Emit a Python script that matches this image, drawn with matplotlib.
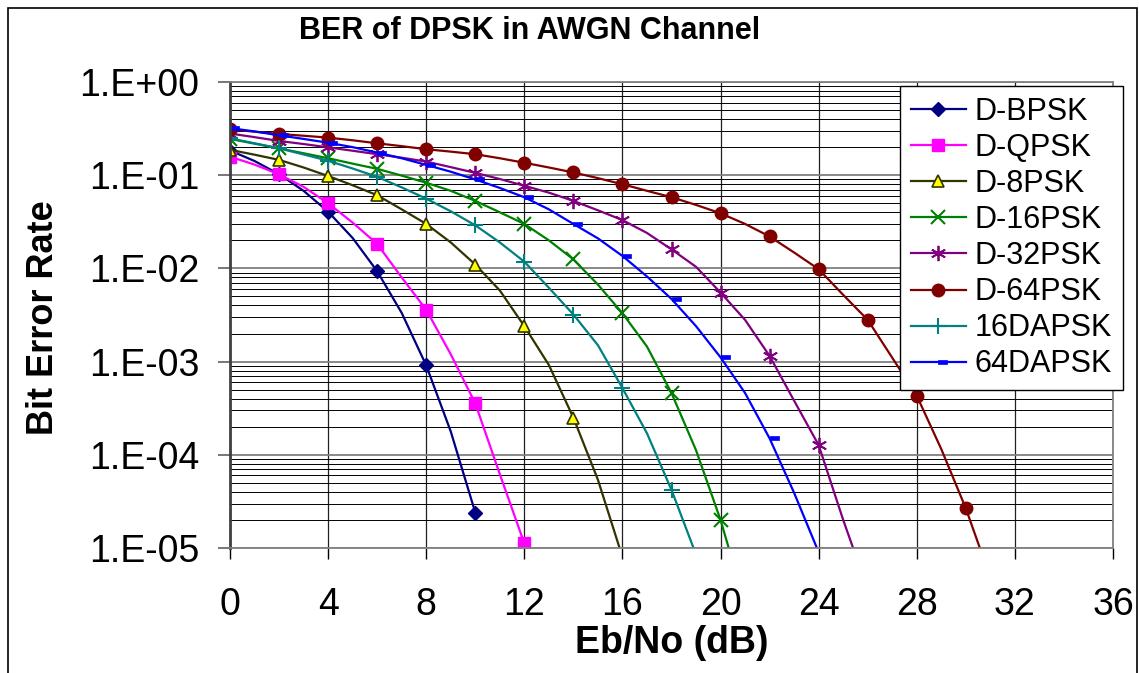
import numpy as np
import matplotlib
matplotlib.use("Agg")
import matplotlib.pyplot as plt
from matplotlib.path import Path
from matplotlib.patches import Rectangle
from matplotlib.ticker import LogLocator, FuncFormatter, MultipleLocator, NullFormatter

plt.rcParams['font.family'] = ['Liberation Sans', 'DejaVu Sans']

# Eb/No in dB (1 dB steps), markers every 2 dB
ebno = list(range(0, 32))

ber_dbpsk = [0.184, 0.142, 0.1025, 0.068, 0.0406, 0.0212, 0.00933, 0.00333, 9.1e-4, 1.78e-4, 2.4e-5]
ber_dqpsk = [0.158, 0.13, 0.102, 0.075, 0.050, 0.031, 0.0183, 0.0080, 0.0036, 0.0012, 3.56e-4,
             6.2e-5, 1.12e-5]
ber_d8psk = [0.187, 0.166, 0.146, 0.121, 0.098, 0.078, 0.061, 0.043, 0.030, 0.019, 0.011,
             0.0058, 0.0024, 9.2e-4, 2.5e-4, 5.4e-5, 8e-6]
ber_d16psk = [0.245, 0.218, 0.194, 0.172, 0.152, 0.133, 0.117, 0.099, 0.083, 0.068, 0.053,
              0.040, 0.030, 0.020, 0.0125, 0.0067, 0.0033, 0.00145, 4.6e-4, 1.12e-4, 2.0e-5, 2.5e-6]
ber_d32psk = [0.28, 0.256, 0.233, 0.216, 0.199, 0.183, 0.168, 0.154, 0.140, 0.122, 0.106,
              0.091, 0.077, 0.065, 0.053, 0.042, 0.033, 0.024, 0.016, 0.0104, 0.0055,
              0.0028, 0.00115, 3.8e-4, 1.27e-4, 2.0e-5, 3.6e-6]
ber_d64psk = [0.31, 0.293, 0.277, 0.265, 0.253, 0.237, 0.22, 0.205, 0.19, 0.179, 0.168,
              0.152, 0.136, 0.121, 0.107, 0.093, 0.080, 0.068, 0.058, 0.048, 0.039,
              0.030, 0.022, 0.0148, 0.0098, 0.0052, 0.0028, 0.0011, 4.3e-4, 1.15e-4, 2.66e-5, 4.8e-6]
ber_16dapsk = [0.249, 0.22, 0.194, 0.167, 0.143, 0.118, 0.096, 0.074, 0.056, 0.041, 0.029,
               0.019, 0.0118, 0.0062, 0.0032, 0.0015, 5.2e-4, 1.7e-4, 4.2e-5, 8.5e-6]
ber_64dapsk = [0.32, 0.295, 0.268, 0.245, 0.223, 0.2, 0.175, 0.152, 0.129, 0.109, 0.090,
               0.073, 0.058, 0.043, 0.030, 0.021, 0.0136, 0.0082, 0.0047, 0.0024, 0.00111,
               4.6e-4, 1.5e-4, 3.9e-5, 9e-6]

names = ['D-BPSK', 'D-QPSK', 'D-8PSK', 'D-16PSK', 'D-32PSK', 'D-64PSK', '16DAPSK', '64DAPSK']
series = [ber_dbpsk, ber_dqpsk, ber_d8psk, ber_d16psk, ber_d32psk, ber_d64psk, ber_16dapsk, ber_64dapsk]

# Excel-style short dash marker, drawn to the right of the point
dash = Path([(0, -0.22), (1, -0.22), (1, 0.22), (0, 0.22), (0, -0.22)],
            [Path.MOVETO, Path.LINETO, Path.LINETO, Path.LINETO, Path.CLOSEPOLY])

styles = [
    dict(color='#000080', marker='D', ms=7, mfc='#000080', mec='#000080'),
    dict(color='#FF00FF', marker='s', ms=8, mfc='#FF00FF', mec='#FF00FF'),
    dict(color='#333300', marker='^', ms=9, mfc='#FFFF00', mec='#333300', mew=1.2),
    dict(color='#008000', marker='x', ms=10, mew=1.5),
    dict(color='#800080', marker=(6, 2, 0), ms=11, mew=1.3),
    dict(color='#800000', marker='o', ms=9, mfc='#800000', mec='#800000'),
    dict(color='#008080', marker='+', ms=11, mew=1.5),
    dict(color='#0000FF', marker=dash, ms=13, mfc='#0000FF', mec='#0000FF', mew=0.5),
]

W, H = 1139, 673
fig = plt.figure(figsize=(W / 100, H / 100), dpi=100)
ax = fig.add_axes([230 / W, 1 - 548 / H, (1113 - 230) / W, (548 - 82) / H])

for name, ber, st in zip(names, series, styles):
    ax.plot(ebno[:len(ber)], ber, lw=1.6, markevery=2, label=name, **st)

ax.set_yscale('log')
ax.set_ylim(1e-5, 1)
ax.set_xlim(0, 36)
ax.xaxis.set_major_locator(MultipleLocator(4))
ax.yaxis.set_major_locator(LogLocator(base=10, numticks=10))
ax.yaxis.set_minor_locator(LogLocator(base=10, subs=np.arange(2, 10), numticks=20))
ax.yaxis.set_major_formatter(FuncFormatter(lambda v, p: "1.E%+03d" % int(round(np.log10(v)))))
ax.yaxis.set_minor_formatter(NullFormatter())

ax.grid(which='major', axis='y', color='#808080', lw=1.3)
ax.grid(which='minor', axis='y', color='black', lw=0.7)
ax.grid(which='major', axis='x', color='#202020', lw=0.9)
ax.set_axisbelow(True)

ax.tick_params(axis='y', which='major', direction='out', length=9, width=1.2,
               color='#606060', pad=13, labelsize=27)
ax.tick_params(axis='y', which='minor', length=0)
ax.tick_params(axis='x', which='major', direction='out', length=8, width=1.0,
               color='black', pad=20, labelsize=27)

ax.spines['left'].set_color('#404040')
ax.spines['left'].set_linewidth(2)
for s in ['top', 'right', 'bottom']:
    ax.spines[s].set_color('#808080')
    ax.spines[s].set_linewidth(1.3)

fig.text(530 / W, 1 - 31 / H, 'BER of DPSK in AWGN Channel', ha='center', va='center',
         fontsize=22, fontweight='bold')
fig.text(672 / W, 1 - 643 / H, 'Eb/No (dB)', ha='center', va='center',
         fontsize=27, fontweight='bold')
fig.text(44 / W, 1 - 318 / H, 'Bit Error Rate', ha='center', va='center', rotation=90,
         fontsize=26, fontweight='bold')

leg = ax.legend(loc='upper left', bbox_to_anchor=(900 / W, 1 - 86 / H),
                bbox_transform=fig.transFigure, fontsize=22, frameon=True, fancybox=False,
                edgecolor='black', framealpha=1, borderpad=0.35, labelspacing=0.2,
                handlelength=1.8, handletextpad=0.3, borderaxespad=0)
leg.get_frame().set_linewidth(1.0)

fig.add_artist(Rectangle((8 / W, -0.05), (1137 - 8) / W, 1 - 8 / H + 0.05,
                         transform=fig.transFigure, fill=False, ec='black', lw=1.2))

fig.savefig('out.png', dpi=100)
